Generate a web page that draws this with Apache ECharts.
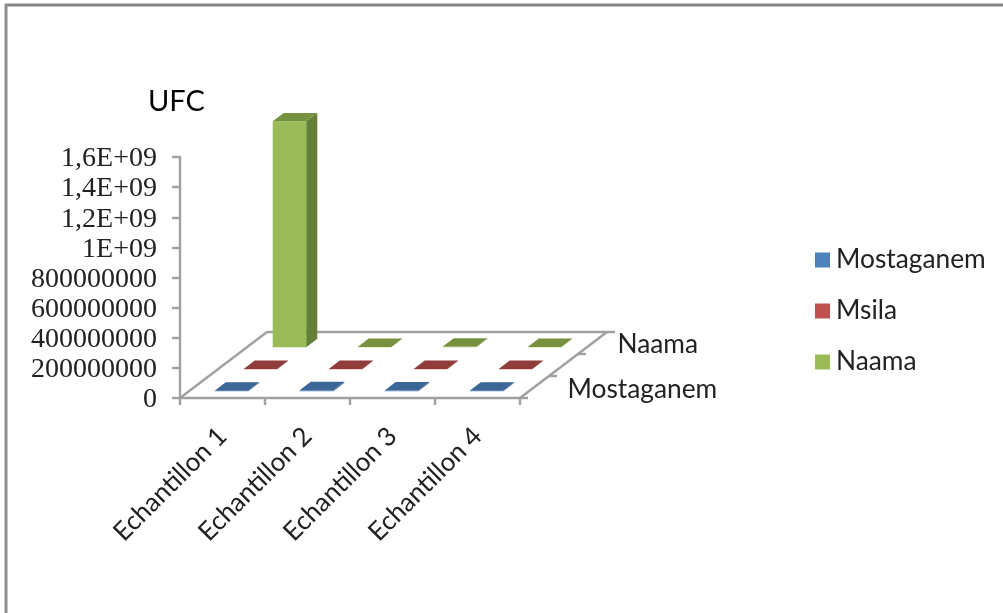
<!DOCTYPE html>
<html><head><meta charset="utf-8">
<style>html,body{margin:0;padding:0;background:#fff}#c{width:1003px;height:613px}</style>
<script src="https://cdn.jsdelivr.net/npm/echarts@6/dist/echarts.min.js"></script>
</head><body><div id="c"></div>
<script>
const categories = ['Echantillon 1','Echantillon 2','Echantillon 3','Echantillon 4'];
const mostaganem = [3000000, 7000000, 5000000, 3000000];
const msila = [2000000, 2000000, 2000000, 2000000];
const naama = [1500000000, 2000000, 4000000, 2000000];
const seriesNames = ['Mostaganem','Msila','Naama'];
const yTickLabels = ['0','200000000','400000000','600000000','800000000','1E+09','1,2E+09','1,4E+09','1,6E+09'];
const depthLabels = ['Mostaganem','','Naama'];

const FONT = 'Lato';
const AXIS = '#A0A0A0';
const INK = '#222222';
const DX = 29, DY = -22;            // one depth step, projected
const WIDTH_F = 0.395, DEPTH_F = 0.38;
const palette = [
  {front:'#4F81BD', top:'#3C6696', side:'#345A85'},
  {front:'#C0504D', top:'#8F3C3A', side:'#7F3533'},
  {front:'#9BBB59', top:'#76923F', side:'#667F37'}
];

function prism(depth){
  return function(params, api){
    const p = api.coord([api.value(0), 0]);
    const t = api.coord([api.value(0), api.value(1)]);
    const band = api.size([1,0])[0];
    const w = band*WIDTH_F;
    const ox = DX*DEPTH_F, oy = DY*DEPTH_F;
    const d = depth + 0.5;
    const cx = p[0] + DX*d - ox/2, base = p[1] + DY*d - oy/2;
    const top = t[1] + DY*d - oy/2;
    const l = cx - w/2, r = cx + w/2;
    const c = palette[depth];
    return {type:'group', children:[
      {type:'rect', shape:{x:l, y:top, width:w, height:base-top}, style:{fill:c.front}},
      {type:'polygon', shape:{points:[[r,top],[r+ox,top+oy],[r+ox,base+oy],[r,base]]}, style:{fill:c.side}},
      {type:'polygon', shape:{points:[[l,top],[r,top],[r+ox,top+oy],[l+ox,top+oy]]}, style:{fill:c.top}}
    ]};
  };
}

function floor(params, api){
  if (params.dataIndex !== 0) return null;
  const band = api.size([1,0])[0];
  const a = api.coord([0,0]);
  const x0 = a[0]-band/2, y0 = a[1];
  const x1 = x0 + band*categories.length;
  const n = depthLabels.length;
  const line = (x1_,y1_,x2_,y2_) => ({type:'line', shape:{x1:x1_,y1:y1_,x2:x2_,y2:y2_},
    style:{stroke:AXIS, lineWidth:2.4}});
  const kids = [
    line(x0,y0,x0+DX*n,y0+DY*n),
    line(x0+DX*n,y0+DY*n,x1+DX*n,y0+DY*n),
    line(x1,y0,x1+DX*n,y0+DY*n)
  ];
  for (let i=0;i<=n;i++) kids.push(line(x1+DX*i,y0+DY*i,x1+DX*i+8,y0+DY*i));
  const labelX = [33, 0, 25];
  depthLabels.forEach((s,i)=>{
    if(!s) return;
    kids.push({type:'text', style:{text:s, x:x1+DX*(i+0.5)+labelX[i], y:y0+DY*(i+0.5)+(i===0?3:2),
      font:'26.3px '+FONT, fill:INK, textAlign:'left', textVerticalAlign:'middle'}});
  });
  return {type:'group', children:kids};
}

const chart = echarts.init(document.getElementById('c'), null, {renderer:'canvas'});
const idx = categories.map((_,i)=>i);
const series = [
  {type:'custom', name:'floor', renderItem:floor, data:idx.map(i=>[i,0]), silent:true, z:1, clip:false}
];
[mostaganem, msila, naama].forEach((vals,k)=>{
  series.push({type:'custom', name:seriesNames[k], renderItem:prism(k), clip:false, z:2+(2-k),
    itemStyle:{color:palette[k].front}, data:vals.map((v,i)=>[i,v]), encode:{x:0,y:1}});
});
chart.setOption({
  animation:false,
  backgroundColor:'#fff',
  title:{text:'UFC', left:143, top:82, textStyle:{fontFamily:FONT, fontSize:29, fontWeight:'normal', color:'#000'}},
  legend:{data:seriesNames, orient:'vertical', left:810, top:242, itemWidth:15, itemHeight:15, itemGap:25,
    icon:'rect', textStyle:{fontFamily:FONT, fontSize:26.3, color:INK, padding:[0,0,0,1]}},
  grid:{left:180, right:483, top:157, bottom:215, containLabel:false},
  xAxis:{type:'category', data:categories, boundaryGap:true,
    axisLine:{lineStyle:{color:AXIS,width:2.4}},
    axisTick:{show:true, alignWithLabel:false, length:7, lineStyle:{color:AXIS,width:2.4}},
    axisLabel:{rotate:45, interval:0, fontFamily:FONT, fontSize:26, color:INK, margin:34}},
  yAxis:{type:'value', min:0, max:1600000000, interval:200000000,
    splitLine:{show:false},
    axisLine:{show:true, lineStyle:{color:AXIS,width:2.4}},
    axisTick:{show:true, length:8, lineStyle:{color:AXIS,width:2.4}},
    axisLabel:{margin:23,
      rich:{t:{fontFamily:'Liberation Serif', fontSize:28, color:INK, padding:[4,0,0,0]}},
      formatter:(v)=>'{t|'+yTickLabels[Math.round(v/200000000)]+'}'}},
  graphic:[
    {type:'line', silent:true, shape:{x1:5,y1:5,x2:1003,y2:5}, style:{stroke:'#868686',lineWidth:3}},
    {type:'line', silent:true, shape:{x1:6,y1:4,x2:6,y2:613}, style:{stroke:'#8E8E8E',lineWidth:3}}
  ],
  series
});
</script></body></html>
